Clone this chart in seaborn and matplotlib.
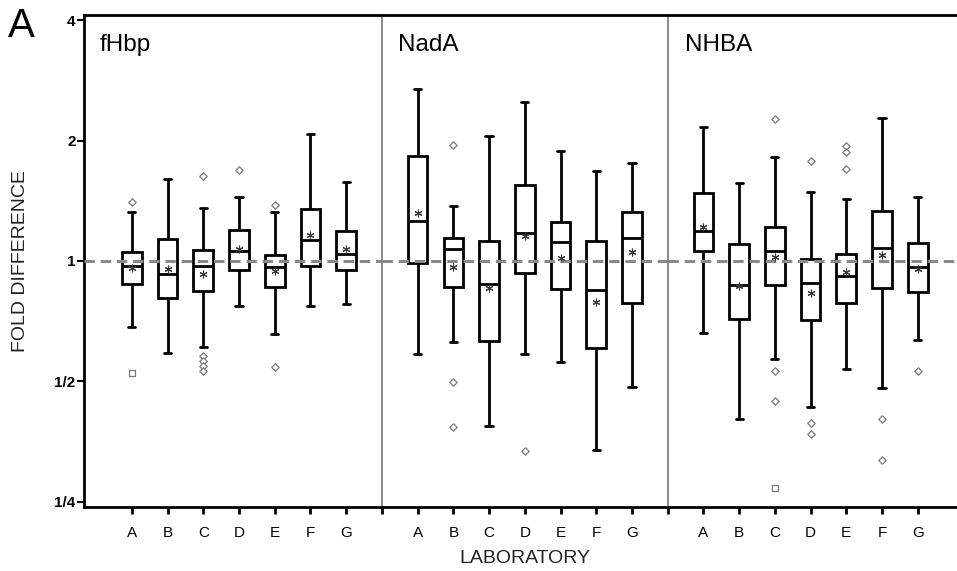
import numpy as np
import pandas as pd
import matplotlib
matplotlib.use("Agg")
import matplotlib.pyplot as plt
from matplotlib.ticker import NullLocator
import seaborn as sns

sns.set_style("ticks")
plt.rcParams["font.family"] = ["Liberation Sans", "DejaVu Sans"]
plt.rcParams["text.color"] = "black"
plt.rcParams["axes.labelcolor"] = "black"
plt.rcParams["xtick.color"] = "black"
plt.rcParams["ytick.color"] = "black"

labs = list("ABCDEFG")
panels = ["fHbp", "NadA", "NHBA"]
ytick_vals = [0.25, 0.5, 1, 2, 4]
ytick_labels = ["1/4", "1/2", "1", "2", "4"]

# ---- fHbp ----
fhbp_lo = [0.684, 0.589, 0.608, 0.772, 0.656, 0.772, 0.779]
fhbp_q1 = [0.877, 0.807, 0.841, 0.950, 0.862, 0.974, 0.950]
fhbp_med = [0.973, 0.927, 0.972, 1.057, 0.965, 1.129, 1.043]
fhbp_q3 = [1.051, 1.137, 1.067, 1.193, 1.035, 1.349, 1.187]
fhbp_hi = [1.324, 1.604, 1.360, 1.449, 1.324, 2.079, 1.574]
fhbp_mean = [0.960, 0.957, 0.929, 1.070, 0.944, 1.162, 1.072]
fhbp_out_lab = ["A", "C", "C", "C", "C", "C", "D", "E", "E"]
fhbp_out_val = [1.407, 1.635, 0.578, 0.562, 0.546, 0.530, 1.689, 1.381, 0.544]
fhbp_far_lab = ["A"]
fhbp_far_val = [0.524]

# ---- NadA ----
nada_lo = [0.586, 0.626, 0.387, 0.586, 0.560, 0.337, 0.483]
nada_q1 = [0.990, 0.860, 0.631, 0.932, 0.852, 0.605, 0.786]
nada_med = [1.259, 1.070, 0.875, 1.177, 1.114, 0.844, 1.140]
nada_q3 = [1.831, 1.140, 1.122, 1.547, 1.250, 1.122, 1.324]
nada_hi = [2.690, 1.373, 2.059, 2.504, 1.885, 1.680, 1.759]
nada_mean = [1.321, 0.964, 0.855, 1.155, 1.016, 0.791, 1.051]
nada_out_lab = ["B", "B", "B", "D"]
nada_out_val = [1.948, 0.498, 0.385, 0.335]
nada_far_lab = []
nada_far_val = []

# ---- NHBA ----
nhba_lo = [0.659, 0.402, 0.568, 0.432, 0.538, 0.482, 0.634]
nhba_q1 = [1.059, 0.715, 0.872, 0.712, 0.784, 0.855, 0.836]
nhba_med = [1.191, 0.872, 1.059, 0.880, 0.917, 1.078, 0.966]
nhba_q3 = [1.477, 1.105, 1.214, 1.013, 1.039, 1.332, 1.109]
nhba_hi = [2.168, 1.567, 1.821, 1.488, 1.432, 2.283, 1.446]
nhba_mean = [1.219, 0.866, 1.025, 0.833, 0.936, 1.033, 0.957]
nhba_out_lab = ["C", "C", "C", "D", "D", "D", "E", "E", "E", "F", "F", "G"]
nhba_out_val = [2.266, 0.532, 0.447, 1.776, 0.393, 0.370, 1.943, 1.877, 1.696,
                0.402, 0.318, 0.532]
nhba_far_lab = ["C"]
nhba_far_val = [0.271]

panel_data = [
    (fhbp_lo, fhbp_q1, fhbp_med, fhbp_q3, fhbp_hi, fhbp_mean,
     fhbp_out_lab, fhbp_out_val, fhbp_far_lab, fhbp_far_val),
    (nada_lo, nada_q1, nada_med, nada_q3, nada_hi, nada_mean,
     nada_out_lab, nada_out_val, nada_far_lab, nada_far_val),
    (nhba_lo, nhba_q1, nhba_med, nhba_q3, nhba_hi, nhba_mean,
     nhba_out_lab, nhba_out_val, nhba_far_lab, nhba_far_val),
]

fig = plt.figure(figsize=(9.57, 5.71), dpi=100)
gs = fig.add_gridspec(1, 3, width_ratios=[8.34, 8.0, 8.1], wspace=0,
                      left=84 / 957, right=1.0, top=1 - 15 / 571, bottom=1 - 507 / 571)
axes = []
for i in range(3):
    ax = fig.add_subplot(gs[0, i], sharey=axes[0] if axes else None)
    axes.append(ax)

xlims = [(-1.34, 7.0), (-1.0, 7.0), (-1.0, 7.1)]
title_x = [0.054, 0.056, 0.059]
divider = "#808080"

for i, (ax, name, pdat) in enumerate(zip(axes, panels, panel_data)):
    lo, q1, med, q3, hi, mean, olab, oval, flab, fval = pdat
    rows = []
    for j, lab in enumerate(labs):
        for v in (lo[j], q1[j], med[j], q3[j], hi[j]):
            rows.append((lab, v))
    df = pd.DataFrame(rows, columns=["lab", "value"])
    sns.boxplot(data=df, x="lab", y="value", order=labs, ax=ax,
                whis=(0, 100), showfliers=False, width=0.55,
                color="white", linecolor="black", linewidth=2.0,
                capwidths=0.2, log_scale=(False, 2))
    # means
    sns.stripplot(x=labs, y=mean, order=labs, ax=ax, jitter=False,
                  marker=(6, 2, 0), size=5, color="#3a3a3a",
                  edgecolor="#3a3a3a", linewidth=0.8, zorder=6,
                  log_scale=(False, 2))
    if olab:
        sns.stripplot(x=olab, y=oval, order=labs, ax=ax, jitter=False,
                      marker="D", size=3.8, color="white", edgecolor="#7a7a7a",
                      linewidth=0.9, zorder=4, log_scale=(False, 2))
    if flab:
        sns.stripplot(x=flab, y=fval, order=labs, ax=ax, jitter=False,
                      marker="s", size=4.8, color="white", edgecolor="#7a7a7a",
                      linewidth=0.9, zorder=4, log_scale=(False, 2))

    ax.axhline(1, color="#8a8a8a", lw=2.2, ls=(0, (3.4, 1.9)), zorder=5)

    ax.set_xlim(*xlims[i])
    ax.set_ylim(2 ** -2.045, 2 ** 2.045)
    ax.text(title_x[i], 0.961, name, transform=ax.transAxes, fontsize=17.5,
            va="top", ha="left", color="black")

    ax.tick_params(axis="x", which="major", length=5, width=2, pad=9,
                   labelsize=11, color="black", labelcolor="black")
    ax.set_xlabel("")
    ax.set_ylabel("")

    for s in ("top", "bottom"):
        ax.spines[s].set_color("black")
        ax.spines[s].set_linewidth(2)
    ax.spines["right"].set_visible(False)
    if i == 0:
        ax.spines["left"].set_color("black")
        ax.spines["left"].set_linewidth(2)
    else:
        ax.spines["left"].set_color(divider)
        ax.spines["left"].set_linewidth(1.3)
        ax.set_xticks([-1], minor=True)
        ax.tick_params(axis="x", which="minor", length=5, width=2, color="black")
        ax.tick_params(axis="y", which="both", left=False, labelleft=False)

ax0 = axes[0]
ax0.set_yticks(ytick_vals)
ax0.set_yticklabels(ytick_labels, fontweight="bold", fontsize=11)
ax0.yaxis.set_minor_locator(NullLocator())
ax0.tick_params(axis="y", which="major", length=5, width=1.5, pad=1,
                color="black", labelcolor="black")
ax0.set_ylabel("FOLD DIFFERENCE", fontsize=14, labelpad=18, color="#222222")
axes[1].set_xlabel("LABORATORY", fontsize=14, labelpad=7, color="#222222")

fig.text(0.008, 0.988, "A", fontsize=29, va="top", ha="left", color="black")

fig.savefig("out.png", dpi=100)
